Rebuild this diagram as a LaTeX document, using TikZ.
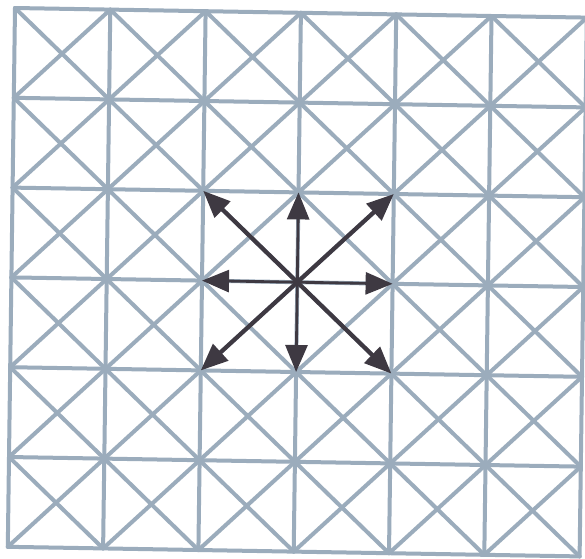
\documentclass[tikz,border=0pt]{standalone}
\usetikzlibrary{arrows.meta}
\definecolor{gridc}{RGB}{155,172,188}
\definecolor{arrc}{RGB}{62,57,66}
\tikzset{
  gridline/.style={draw=gridc, line width=4pt, line cap=round},
  arrdiag/.style={draw=arrc, line width=4.2pt, -{Triangle[length=27pt,width=22pt]}},
  arrstraight/.style={draw=arrc, line width=2.8pt, -{Triangle[length=27pt,width=22pt]}}
}
\begin{document}
\begin{tikzpicture}[x=1pt,y=1pt]
\fill[white] (0,0) rectangle (585,-558);
\useasboundingbox (0,0) rectangle (585,-558);
\begin{scope}[shift={(15pt,-8pt)}, x={(95.3pt,-1.6pt)}, y={(-1.2pt,-89.8pt)}]
  % cell diagonals
  \foreach \i in {0,...,5} {
    \foreach \j in {0,...,5} {
      \draw[gridline] (\i,\j) -- (\i+1,\j+1);
      \draw[gridline] (\i+1,\j) -- (\i,\j+1);
    }
  }
  % grid lines
  \foreach \k in {0,...,6} {
    \draw[gridline] (\k,0) -- (\k,6);
    \draw[gridline] (0,\k) -- (6,\k);
  }
  % arrow points
  \coordinate (c) at (3,3);
  \coordinate (nw) at (2,2);
  \coordinate (n) at (3,2);
  \coordinate (ne) at (4,2);
  \coordinate (w) at (2,3);
  \coordinate (e) at (4,3);
  \coordinate (sw) at (2,4);
  \coordinate (s) at (3,4);
  \coordinate (se) at (4,4);
  \draw[arrdiag] (c) -- (nw);
  \draw[arrdiag] (c) -- (ne);
  \draw[arrdiag] (c) -- (sw);
  \draw[arrdiag] (c) -- (se);
  \draw[arrstraight] (c) -- (n);
  \draw[arrstraight] (c) -- (s);
  \draw[arrstraight] (c) -- (w);
  \draw[arrstraight] (c) -- (e);
\end{scope}
\end{tikzpicture}
\end{document}
